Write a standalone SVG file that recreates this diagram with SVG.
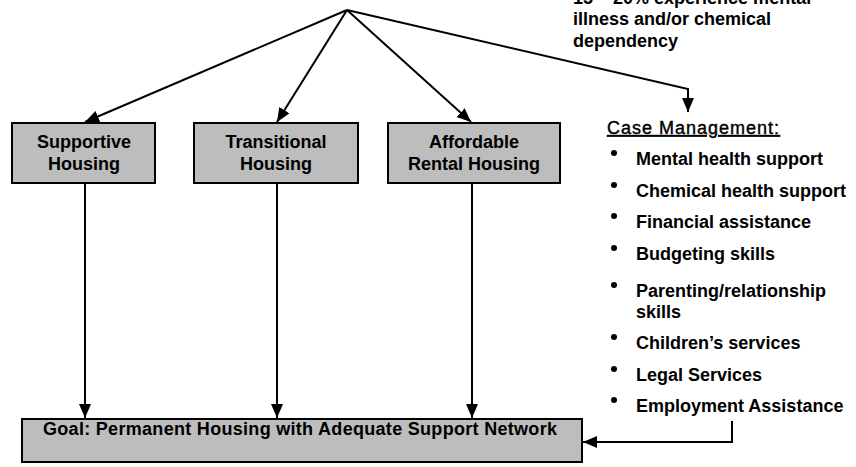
<svg xmlns="http://www.w3.org/2000/svg" width="856" height="467" viewBox="0 0 856 467">
<style>
text{font-family:"Liberation Sans",Arial,sans-serif;font-size:18px;font-weight:bold;fill:#000}
.box{fill:#bdbdbd;stroke:#000;stroke-width:2}
.c{text-anchor:middle}
.ln{fill:none;stroke:#000;stroke-width:2}
.cm{font-weight:normal;letter-spacing:1px;text-decoration:underline;stroke:#000;stroke-width:0.4}
.goal{letter-spacing:0.3px}
</style>
<defs>
<marker id="ah" markerWidth="14" markerHeight="12" viewBox="0 0 14 12" refX="14" refY="6" orient="auto" markerUnits="userSpaceOnUse">
<path d="M0,0 L14,6 L0,12 Z" fill="#000"/>
</marker>
</defs>
<g id="note">
<text x="573" y="4">15 – 20% experience mental</text>
<text x="573" y="25">illness and/or chemical</text>
<text x="573" y="47">dependency</text>
</g>
<g id="connectors">
<line class="ln" x1="347" y1="10" x2="85" y2="122" marker-end="url(#ah)"/>
<line class="ln" x1="347" y1="10" x2="277" y2="122" marker-end="url(#ah)"/>
<line class="ln" x1="347" y1="10" x2="471" y2="122" marker-end="url(#ah)"/>
<polyline class="ln" points="347,10 688,89 688,112" marker-end="url(#ah)"/>
<line class="ln" x1="85" y1="183" x2="85" y2="418" marker-end="url(#ah)"/>
<line class="ln" x1="277" y1="183" x2="277" y2="418" marker-end="url(#ah)"/>
<line class="ln" x1="472" y1="183" x2="472" y2="418" marker-end="url(#ah)"/>
<polyline class="ln" points="732,421 732,442 583,442" marker-end="url(#ah)"/>
</g>
<g id="supportive">
<rect class="box" x="12" y="123" width="143" height="60"/>
<text class="c" x="84" y="148">Supportive</text>
<text class="c" x="84" y="170">Housing</text>
</g>
<g id="transitional">
<rect class="box" x="194" y="123" width="164" height="60"/>
<text class="c" x="276" y="148">Transitional</text>
<text class="c" x="276" y="170">Housing</text>
</g>
<g id="affordable">
<rect class="box" x="388" y="123" width="172" height="60"/>
<text class="c" x="474" y="148">Affordable</text>
<text class="c" x="474" y="170">Rental Housing</text>
</g>
<g id="goal">
<rect class="box" x="22" y="419" width="560" height="43"/>
<text class="goal" x="43" y="435">Goal: Permanent Housing with Adequate Support Network</text>
</g>
<g id="case-management">
<text class="cm" x="607" y="134">Case Management:</text>
<g fill="#000">
<circle cx="614" cy="153" r="3"/>
<circle cx="614" cy="185" r="3"/>
<circle cx="614" cy="216" r="3"/>
<circle cx="614" cy="248" r="3"/>
<circle cx="614" cy="285" r="3"/>
<circle cx="614" cy="337" r="3"/>
<circle cx="614" cy="369" r="3"/>
<circle cx="614" cy="400" r="3"/>
</g>
<text x="636" y="165">Mental health support</text>
<text x="636" y="197">Chemical health support</text>
<text x="636" y="228">Financial assistance</text>
<text x="636" y="260">Budgeting skills</text>
<text x="636" y="297">Parenting/relationship</text>
<text x="636" y="318">skills</text>
<text x="636" y="349">Children’s services</text>
<text x="636" y="381">Legal Services</text>
<text x="636" y="412">Employment Assistance</text>
</g>
</svg>
